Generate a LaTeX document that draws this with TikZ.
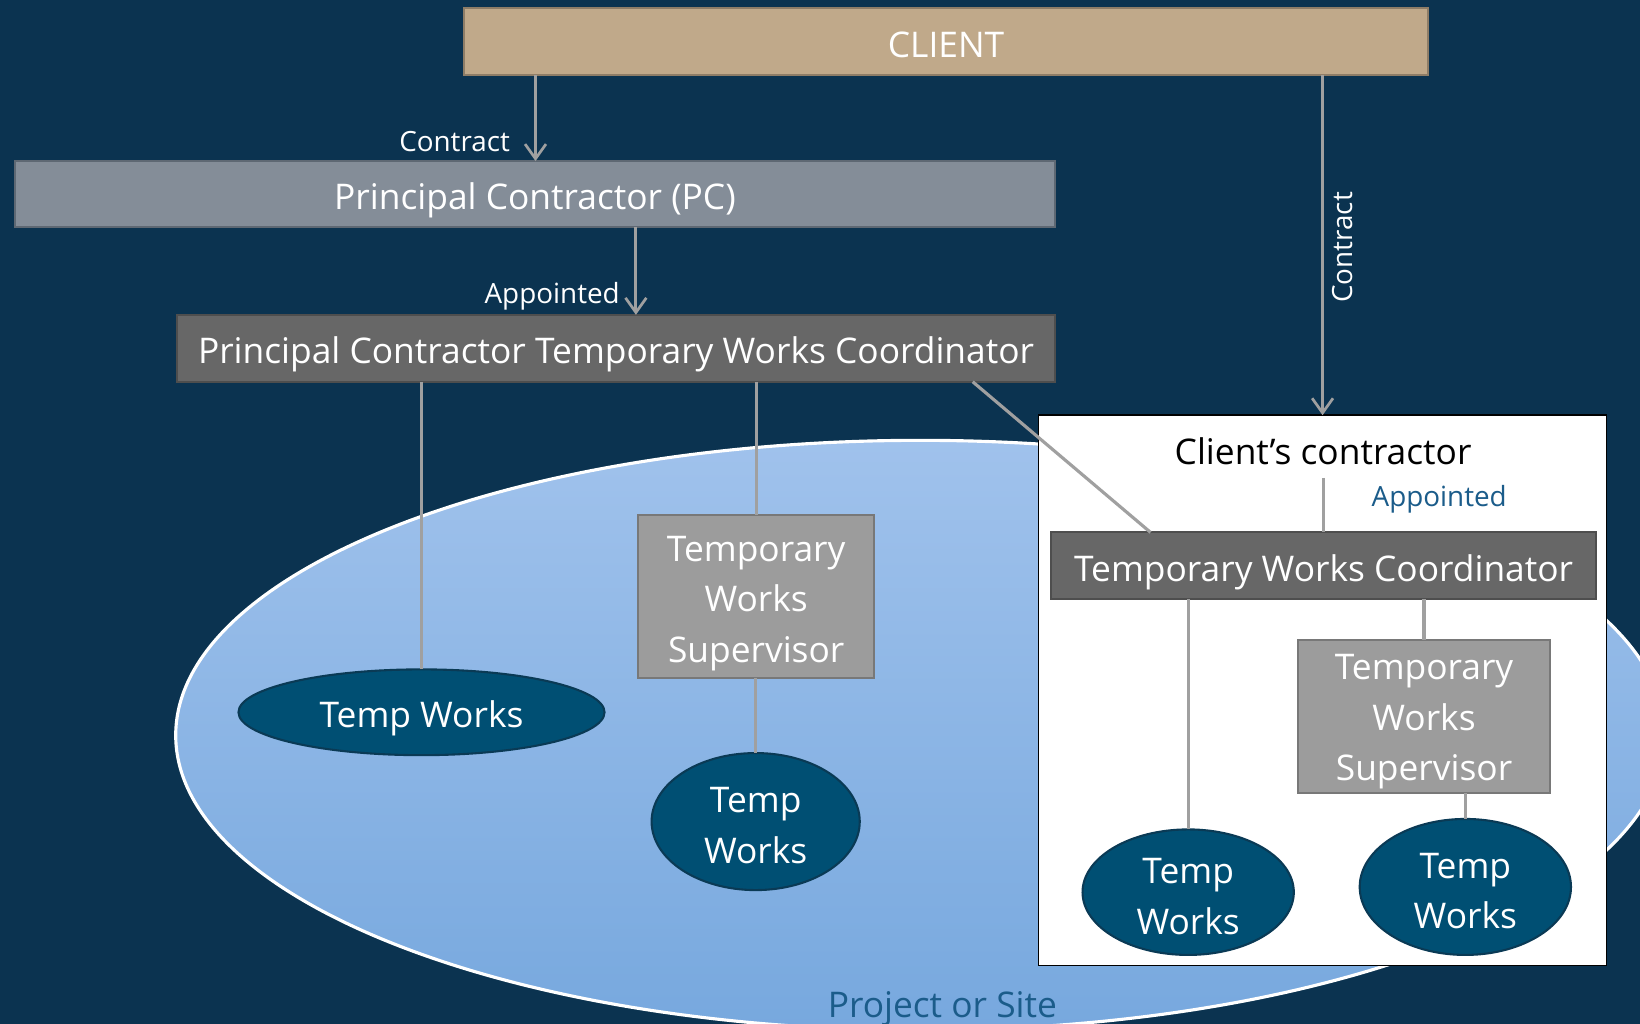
\documentclass[tikz,border=0pt]{standalone}
\usepackage{fontspec}
\setmainfont{Open Sans}
\usetikzlibrary{shapes.geometric,arrows.meta}
\definecolor{bg}{HTML}{0B3350}
\definecolor{clientfill}{HTML}{C0A98A}
\definecolor{clientline}{HTML}{8E7D67}
\definecolor{pcfill}{HTML}{848D98}
\definecolor{pcline}{HTML}{5E6873}
\definecolor{coordfill}{HTML}{676767}
\definecolor{coordline}{HTML}{4E4E4E}
\definecolor{supfill}{HTML}{9C9C9C}
\definecolor{supline}{HTML}{787878}
\definecolor{twfill}{HTML}{004F73}
\definecolor{twline}{HTML}{0A3A55}
\definecolor{conn}{HTML}{A0A0A0}
\definecolor{ellA}{HTML}{A0C2EC}
\definecolor{ellB}{HTML}{77A8DE}
\definecolor{bluetext}{HTML}{1B5C8A}
\tikzset{
  mainfont/.style={font=\fontsize{16.9}{24.3}\selectfont},
  labfont/.style={font=\fontsize{13.3}{15}\selectfont},
  oneline/.style={text height=14.5pt, text depth=0pt},
  boxbase/.style={rectangle, draw, line width=1pt, text=white, mainfont, inner sep=0pt, outer sep=0pt, align=center},
  clientbox/.style={boxbase, oneline, fill=clientfill, draw=clientline},
  pcbox/.style={boxbase, oneline, fill=pcfill, draw=pcline},
  coordbox/.style={boxbase, oneline, fill=coordfill, draw=coordline},
  supbox/.style={boxbase, fill=supfill, draw=supline},
  twell/.style={ellipse, draw=twline, fill=twfill, line width=1pt, inner sep=0pt, outer sep=0pt},
  twtext/.style={text=white, mainfont, align=center, inner sep=0pt},
  conline/.style={draw=conn, line width=1.5pt},
  arr/.style={conline, -{Straight Barb[length=7pt, width=10pt, line width=1.3pt]}},
  lab/.style={labfont, text=white, inner sep=0pt},
}
\begin{document}
\begin{tikzpicture}[x={(0.5pt,0)}, y={(0,-0.5pt)}]
\useasboundingbox (0,0) rectangle (1568,979);
\clip (0,0) rectangle (1568,979);
\fill[bg] (0,0) rectangle (1568,979);
% project / site ellipse
\path[draw=white, line width=1.5pt, top color=ellA, bottom color=ellB] (880,703) ellipse [x radius=356pt, y radius=141pt];
\node[mainfont, oneline, text=bluetext, inner sep=0pt] (site) at (901,958) {Project or Site};
% client's contractor frame
\node[rectangle, draw=black, fill=white, line width=0.8pt, minimum width=271.5pt, minimum height=263pt, inner sep=0pt, outer sep=0pt] (cbox) at (1264.5,660) {};
\node[mainfont, text=black, inner xsep=0pt, inner ysep=6.5pt, outer sep=0pt] (cctext) at (1265,431) {Client’s contractor};
% boxes
\node[clientbox, minimum width=460.5pt, minimum height=32pt] (client) at (904.5,40) {CLIENT};
\node[pcbox, minimum width=497.5pt, minimum height=31.5pt] (pc) at (511.5,185.5) {Principal Contractor (PC)};
\node[coordbox, minimum width=420pt, minimum height=32pt] (pctwc) at (589,333) {Principal Contractor Temporary Works Coordinator};
\node[coordbox, minimum width=260.5pt, minimum height=32pt] (twc) at (1265.5,541) {Temporary Works Coordinator};
\node[supbox, minimum width=113pt, minimum height=78pt, label={[twtext, yshift=-3.5pt]center:Temporary\\Works\\Supervisor}] (tws1) at (723,570) {};
\node[supbox, minimum width=120.5pt, minimum height=73pt, label={[twtext, yshift=-2.5pt]center:Temporary\\Works\\Supervisor}] (tws2) at (1361.5,685) {};
% temp works ellipses
\node[twell, minimum width=175pt, minimum height=41pt, label={[twtext, oneline]center:Temp Works}] (tw1) at (403,681) {};
\node[twell, minimum width=99.5pt, minimum height=65.5pt, label={[twtext, yshift=-1.8pt]center:Temp\\Works}] (tw2) at (722.5,785.5) {};
\node[twell, minimum width=101pt, minimum height=60pt, label={[twtext, yshift=-2pt]center:Temp\\Works}] (tw3) at (1136,853) {};
\node[twell, minimum width=101pt, minimum height=65pt, label={[twtext, yshift=-2pt]center:Temp\\Works}] (tw4) at (1401,848) {};
% connectors
\draw[arr] (client.south -| 512,0) -- (pc.north -| 512,0)
  node[lab, anchor=east, pos=0.775, xshift=-11.5pt] {Contract};
\draw[arr] (pc.south -| 608,0) -- (pctwc.north -| 608,0)
  node[lab, anchor=east, pos=0.79, xshift=-7pt] {Appointed};
\draw[arr] (client.south -| cbox.north) -- (cbox.north)
  node[lab, pos=0.506, xshift=9.5pt, rotate=90] {Contract};
\draw[conline] (cctext.south) -- (twc.north -| cctext.south)
  node[labfont, text=bluetext, inner sep=0pt, pos=0.4, xshift=55.5pt] {Appointed};
\draw[conline] (pctwc.south -| 930,0) -- (twc.north -| 1100,0);
\draw[conline] (pctwc.south -| tw1.north) -- (tw1.north);
\draw[conline] (pctwc.south -| tws1.north) -- (tws1.north);
\draw[conline] (tws1.south -| tw2.north) -- (tw2.north);
\draw[conline] (twc.south -| tw3.north) -- (tw3.north);
\draw[conline] (twc.south -| tws2.north) -- (tws2.north);
\draw[conline] (tws2.south -| tw4.north) -- (tw4.north);
\end{tikzpicture}
\end{document}
